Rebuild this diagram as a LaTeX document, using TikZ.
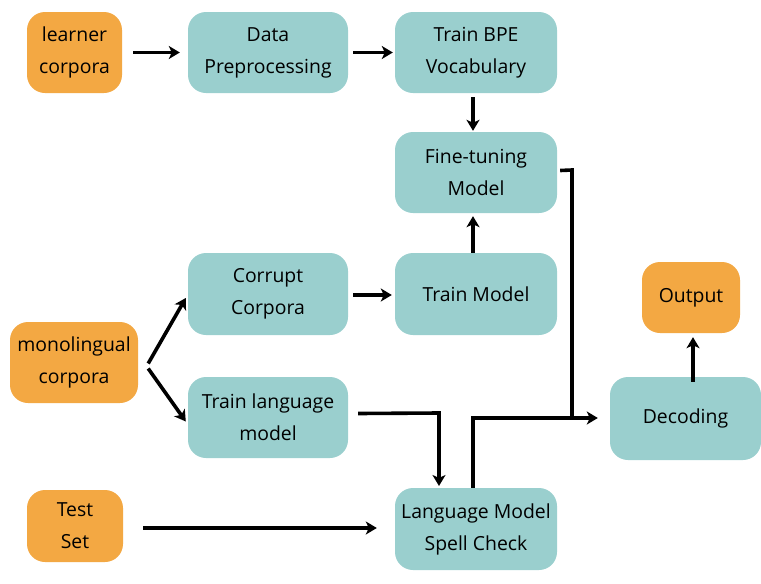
\documentclass[tikz,border=0pt]{standalone}
\usepackage{fontspec}
\setmainfont{Open Sans}
\usetikzlibrary{arrows.meta}
\definecolor{teal1}{RGB}{154,207,206}
\definecolor{orng}{RGB}{243,168,67}
\begin{document}
\begin{tikzpicture}[x=1pt,y=-1pt,
  box/.style={rounded corners=18pt, inner sep=0pt, align=center,
    font=\fontsize{19.4}{32}\selectfont, text=black},
  tbox/.style={box, fill=teal1, minimum width=162pt, minimum height=81pt},
  obox/.style={box, fill=orng},
  arr/.style={line width=3.6pt, -{Stealth[length=11pt,width=13pt,inset=3pt]}},
  ln/.style={line width=3.6pt}]
\useasboundingbox (0,0) rectangle (761,584);
% nodes
\node[obox, minimum width=95pt, minimum height=81pt] (learner) at (74.5,52.5) {learner\\corpora};
\node[tbox, minimum width=160pt] (data) at (268,52.5) {Data\\Preprocessing};
\node[tbox] (bpe) at (476,52.5) {Train BPE\\Vocabulary};
\node[tbox] (fine) at (476,172.5) {Fine-tuning\\Model};
\node[tbox, minimum width=160pt, minimum height=82pt] (corrupt) at (268,294) {Corrupt\\Corpora};
\node[tbox, minimum height=82pt] (trainm) at (476,294) {Train Model};
\node[obox, minimum width=128pt, minimum height=81pt] (mono) at (74,362.5) {monolingual\\corpora};
\node[tbox, minimum width=160pt] (trainlm) at (268,417.5) {Train language\\model};
\node[obox, minimum width=96pt, minimum height=72pt] (test) at (75,526) {Test\\Set};
\node[tbox, minimum height=82pt] (lm) at (476,529) {Language Model\\Spell Check};
\node[obox, minimum width=98pt, minimum height=71pt] (output) at (691,297.5) {Output};
\node[tbox, minimum width=151pt, minimum height=83pt] (dec) at (685.5,418.5) {Decoding};
% connectors
\draw[arr] ([xshift=11pt]learner.east) -- ([xshift=-8pt]data.west);
\draw[arr] ([xshift=5pt]data.east) -- ([xshift=-2pt]bpe.west);
\draw[arr] ([xshift=-3pt,yshift=-4pt]bpe.south) -- ([xshift=-3pt,yshift=1pt]fine.north);
\draw[arr] ([xshift=-3pt]trainm.north) -- ([xshift=-3pt,yshift=-3pt]fine.south);
\draw[arr] ([xshift=5pt,yshift=-1pt]corrupt.east) -- ([xshift=-3pt,yshift=-1pt]trainm.west);
\draw[arr] ([xshift=10pt,yshift=-1pt]mono.east) -- ([xshift=-2pt,yshift=-4pt]corrupt.west);
\draw[arr] ([xshift=10pt,yshift=-6pt]mono.east) -- ([xshift=-2pt,yshift=-4pt]trainlm.west);
\coordinate (c1) at (439,413);
\draw[arr] ([xshift=10pt,yshift=4pt]trainlm.east) -- (c1) -- (439,486);
\draw[arr] ([xshift=20pt,yshift=-2pt]test.east) -- ([xshift=-18pt,yshift=1pt]lm.west);
\coordinate (c2) at (572,170);
\draw[ln] ([xshift=3pt,yshift=2pt]fine.east) -- (c2) -- (572,419.8);
\coordinate (c3) at (473,418);
\draw[arr] ([xshift=-3pt]lm.north) -- (c3) -- ([xshift=-12pt,yshift=0.5pt]dec.west);
\draw[arr] ([xshift=7.5pt,yshift=-5pt]dec.north) -- ([xshift=2pt,yshift=-4pt]output.south);
\end{tikzpicture}
\end{document}
